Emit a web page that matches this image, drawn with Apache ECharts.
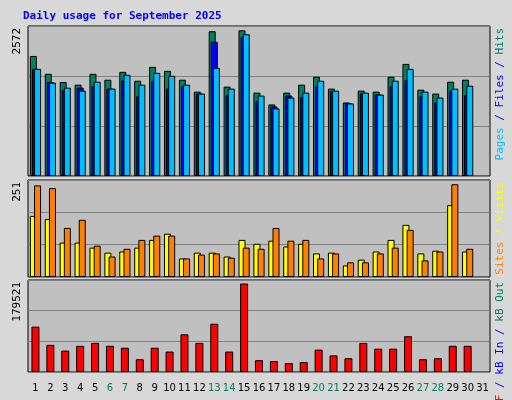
<!DOCTYPE html>
<html><head><meta charset="utf-8">
<script src="https://cdn.jsdelivr.net/npm/echarts@6/dist/echarts.min.js"></script>
<style>html,body{margin:0;padding:0;}#c{width:512px;height:400px;}</style>
</head><body><div id="c"></div>
<script>
"use strict";
const days = [];
for (let i = 1; i <= 31; i++) days.push(String(i));
const weekend = ['6','7','13','14','20','21','27','28'];

const hits  = [2058,1752,1611,1566,1752,1651,1786,1634,1871,1803,1651,1447,2482,1532,2498,1430,1227,1430,1566,1702,1498,1261,1464,1447,1702,1922,1481,1413,1617,1651,null];
const files = [1837,1611,1470,1515,1538,1498,1639,1368,1622,1498,1538,1413,2301,1385,2386,1283,1193,1379,1351,1538,1453,1249,1419,1396,1538,1639,1368,1261,1464,1385,null];
const pages = [1837,1600,1515,1464,1617,1498,1735,1566,1769,1718,1566,1413,1854,1498,2431,1379,1159,1345,1430,1634,1464,1244,1430,1396,1634,1837,1447,1345,1498,1549,null];
const visits = [158,150,89,89,76,63,66,76,96,112,48,63,63,53,96,86,94,79,86,61,63,30,45,66,96,135,61,68,186,66,null];
const sites  = [237,230,127,148,81,53,73,96,107,107,48,58,61,50,76,73,127,94,96,48,61,38,38,61,76,122,43,66,240,73,null];
const kbytes = [88513,52984,41764,51114,56724,51114,47374,24933,47374,39894,73553,56724,94123,39894,172664,23063,21193,17453,19323,43634,32413,26803,56724,45504,45504,69813,24933,26803,51114,51114,null];

const maxHits = 2572, maxVisits = 251, maxKB = 179521;

const chart = echarts.init(document.getElementById('c'));
const grids = [
  {left: 28, right: 22, top: 26, height: 150},
  {left: 28, right: 22, top: 180, height: 97},
  {left: 28, right: 22, top: 280, height: 92}
];
const mkX = (i, show) => ({
  type: 'category', gridIndex: i, data: days,
  axisLine: {show: false}, axisTick: {show: false},
  axisLabel: show ? {
    show: true, fontFamily: 'DejaVu Sans', fontSize: 10, margin: 11, interval: 0,
    color: v => weekend.indexOf(v) !== -1 ? '#00805c' : '#000'
  } : {show: false}
});
const mkY = (i, max) => ({
  type: 'value', gridIndex: i, min: 0, max: max, interval: max / 3,
  axisLabel: {show: false}, axisLine: {show: false}, axisTick: {show: false},
  splitLine: {lineStyle: {color: '#808080', width: 1}}
});
const bar = (name, data, xi, color, gap) => ({
  name: name, type: 'bar', xAxisIndex: xi, yAxisIndex: xi, data: data,
  barWidth: 7, barGap: gap, animation: false,
  itemStyle: {color: color, borderColor: '#000', borderWidth: 1}
});
// vertical text reading bottom-to-top, its end anchored at (x, y)
const vText = (x, y, text, rich) => ({
  type: 'text', x: x, y: y, rotation: Math.PI / 2,
  style: {text: text, rich: rich, fill: '#000', font: '11px "DejaVu Sans Mono"',
    textAlign: 'right', textVerticalAlign: 'bottom'}
});

chart.setOption({
  backgroundColor: '#d8d8d8',
  title: {text: 'Daily usage for September 2025', left: 18, top: 6,
    textStyle: {color: '#0000ff', fontFamily: 'DejaVu Sans Mono', fontSize: 11, fontWeight: 'bold'}},
  grid: grids.map(g => Object.assign({show: true, backgroundColor: '#c0c0c0', borderColor: '#000', borderWidth: 1}, g)),
  xAxis: [mkX(0, false), mkX(1, false), mkX(2, true)],
  yAxis: [mkY(0, maxHits), mkY(1, maxVisits), mkY(2, maxKB)],
  series: [
    bar('Hits', hits, 0, '#008060', '-70%'),
    bar('Files', files, 0, '#0000ff', '-70%'),
    bar('Pages', pages, 0, '#00bfff', '-70%'),
    bar('Visits', visits, 1, '#ffff00', '-40%'),
    bar('Sites', sites, 1, '#ff8000', '-40%'),
    {name: 'kB F', type: 'bar', xAxisIndex: 2, yAxisIndex: 2, data: kbytes, barWidth: 8, animation: false,
      itemStyle: {color: '#ff0000', borderColor: '#000', borderWidth: 1}}
  ],
  graphic: [
    vText(23, 28, '2572'),
    vText(23, 182, '251'),
    vText(23, 282, '179521'),
    vText(506, 28, '{a|Pages}{b| / Files / }{c|Hits}',
      {a: {fill: '#00bfff'}, b: {fill: '#0000ff'}, c: {fill: '#008060'}}),
    vText(506, 182, '{b|Sites}{a| / Visits}',
      {a: {fill: '#ffff00'}, b: {fill: '#ff8000'}}),
    vText(506, 282, '{c|kB F}{b| / kB In / }{a|kB Out}',
      {a: {fill: '#008060'}, b: {fill: '#0000ff'}, c: {fill: '#ff0000'}})
  ]
});
</script></body></html>
